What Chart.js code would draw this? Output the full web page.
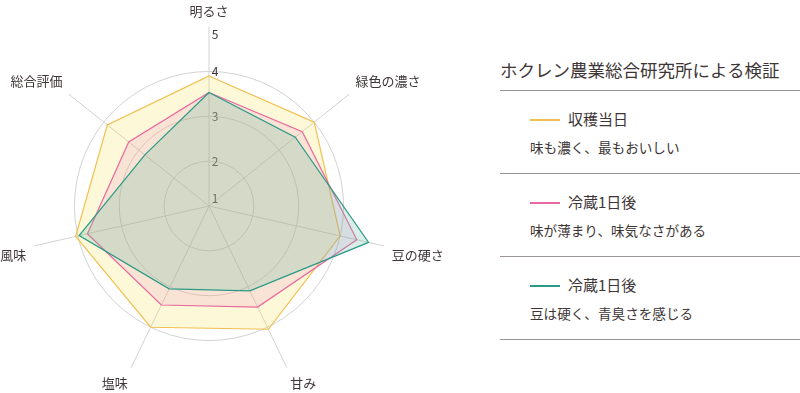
<!DOCTYPE html>
<html lang="ja">
<head>
<meta charset="utf-8">
<script src="https://cdn.jsdelivr.net/npm/chart.js@4.4.1/dist/chart.umd.min.js"></script>
<style>
  html, body { margin: 0; padding: 0; background: #fff; }
  body { width: 800px; height: 393px; position: relative; overflow: hidden;
         font-family: "Noto Sans CJK JP", "Noto Sans", sans-serif; color: #3e3636; }
  /* box is larger than its visible part so the radar gets a radius of ~180px */
  #chartBox { position: absolute; left: -33px; top: -4px; width: 490px; height: 407px; }
  #legend { position: absolute; left: 500px; top: 50px; width: 300px; }
  #legend h2 { margin: 0; font-size: 17.5px; font-weight: normal; line-height: 40px;
               border-bottom: 1px solid #9a9494; }
  .item { border-bottom: 1px solid #9a9494; height: 82px; position: relative; }
  .item .name { position: absolute; left: 30px; top: 16px; font-size: 15px; line-height: 24px; }
  .item .name i { display: inline-block; width: 30px; height: 2px; vertical-align: middle;
                  margin-right: 8px; position: relative; top: -1px; }
  .item .desc { position: absolute; left: 30px; top: 45px; font-size: 13.6px; line-height: 22px; }
</style>
</head>
<body>
<div id="chartBox"><canvas id="tasteChart"></canvas></div>
<div id="legend"></div>
<script>
// Radar axes (clockwise from top)
const labels = ['明るさ', '緑色の濃さ', '豆の硬さ', '甘み', '塩味', '風味', '総合評価'];

// Series values
const harvestDay = [3.9, 4.0, 4.0, 4.05, 4.0, 4.05, 3.9];
const chilledSoft = [3.53, 3.66, 4.38, 3.5, 3.45, 3.78, 3.29];
const chilledHard = [3.53, 3.46, 4.65, 3.1, 3.05, 3.97, 2.83];

const seriesNames = ['収穫当日', '冷蔵1日後', '冷蔵1日後'];
const seriesNotes = ['味も濃く、最もおいしい', '味が薄まり、味気なさがある', '豆は硬く、青臭さを感じる'];
const lineColors = ['#f2bf4f', '#e8689f', '#2a9a86'];
const fillColors = ['rgba(245, 220, 60, 0.2)', 'rgba(230, 110, 190, 0.15)', 'rgba(103, 187, 163, 0.25)'];

// Tick labels: position on the scale -> text shown
const tickValues = [1, 1.16, 2, 3, 4, 4.82];
const tickLabels = ['', '1', '2', '3', '4', '5'];

const legendEl = document.getElementById('legend');
legendEl.innerHTML = '<h2>ホクレン農業総合研究所による検証</h2>' +
    seriesNames.map((name, i) =>
        '<div class="item"><div class="name"><i style="background:' + lineColors[i] + '"></i>' + name +
        '</div><div class="desc">' + seriesNotes[i] + '</div></div>').join('');

const allSeries = [harvestDay, chilledSoft, chilledHard];

new Chart(document.getElementById('tasteChart'), {
    type: 'radar',
    data: {
        labels: labels,
        datasets: allSeries.map((vals, i) => ({
            label: seriesNames[i],
            data: vals,
            order: allSeries.length - i,   // later series drawn on top
            borderColor: lineColors[i],
            backgroundColor: fillColors[i],
            borderWidth: 1.2,
            pointRadius: 0,
            fill: true
        }))
    },
    options: {
        responsive: true,
        maintainAspectRatio: false,
        animation: false,
        plugins: { legend: { display: false }, tooltip: { enabled: false } },
        scales: {
            r: {
                min: 1,
                max: 5,
                afterBuildTicks: function(scale) {
                    scale.ticks = tickValues.map(v => ({ value: v }));
                },
                ticks: {
                    showLabelBackdrop: false,
                    color: '#3e3636',
                    font: { family: 'Noto Sans CJK JP', size: 12 },
                    callback: function(value, index) {
                        return '\u2002\u2002' + tickLabels[index];
                    }
                },
                grid: {
                    circular: true,
                    color: function(ctx) {
                        return [2, 3, 4].includes(ctx.tick.value) ? '#d2d2d2' : 'rgba(0,0,0,0)';
                    }
                },
                angleLines: { color: '#d2d2d2' },
                pointLabels: {
                    color: '#3e3636',
                    padding: 0,
                    font: { family: 'Noto Sans CJK JP', size: 13 }
                }
            }
        }
    }
});
</script>
</body>
</html>
